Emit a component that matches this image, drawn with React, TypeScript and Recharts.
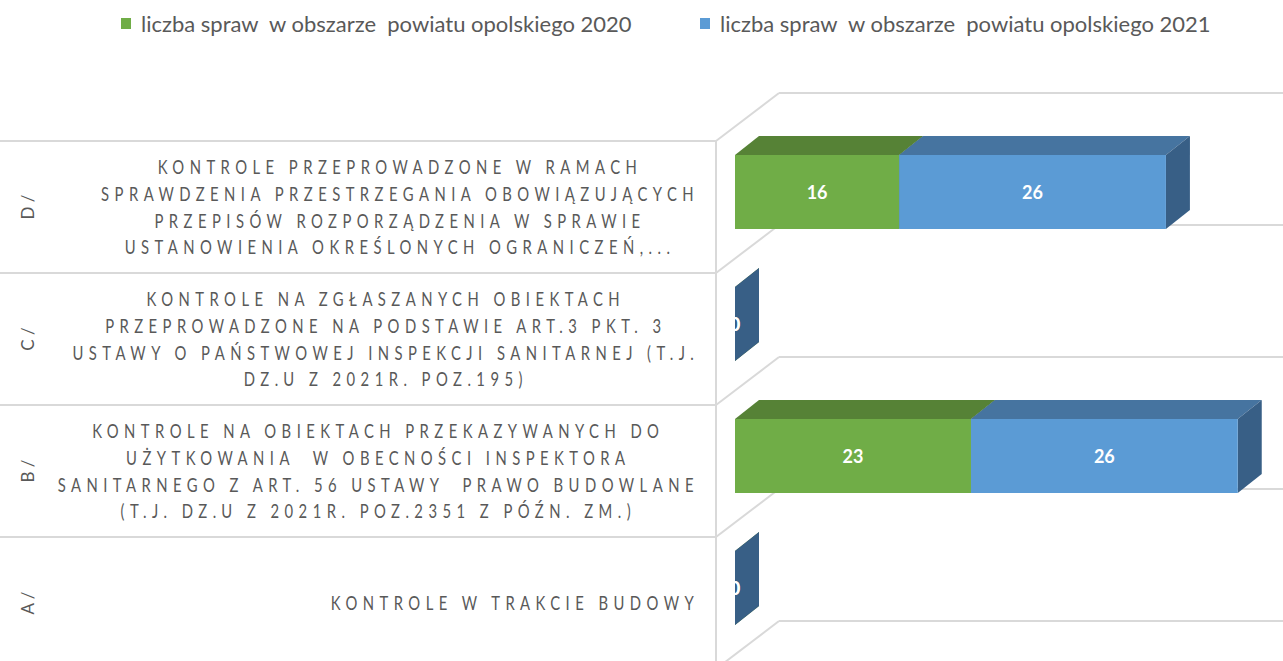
import React from "react";
import {
  Bar,
  BarChart,
  CartesianGrid,
  LabelList,
  Legend,
  XAxis,
  YAxis,
} from "recharts";

// categories, top to bottom
const codes = ["D /", "C /", "B /", "A /"];
const descriptions: string[][] = [
  [
    "KONTROLE PRZEPROWADZONE W RAMACH",
    "SPRAWDZENIA PRZESTRZEGANIA OBOWIĄZUJĄCYCH",
    "PRZEPISÓW ROZPORZĄDZENIA W SPRAWIE",
    "USTANOWIENIA OKREŚLONYCH OGRANICZEŃ,...",
  ],
  [
    "KONTROLE NA ZGŁASZANYCH OBIEKTACH",
    "PRZEPROWADZONE NA PODSTAWIE ART.3 PKT. 3",
    "USTAWY O PAŃSTWOWEJ INSPEKCJI SANITARNEJ (T.J.",
    "DZ.U Z 2021R. POZ.195)",
  ],
  [
    "KONTROLE NA OBIEKTACH PRZEKAZYWANYCH DO",
    "UŻYTKOWANIA  W OBECNOŚCI INSPEKTORA",
    "SANITARNEGO Z ART. 56 USTAWY  PRAWO BUDOWLANE",
    "(T.J. DZ.U Z 2021R. POZ.2351 Z PÓŹN. ZM.)",
  ],
  ["KONTROLE W TRAKCIE BUDOWY"],
];
const cases2020 = [16, 0, 23, 0];
const cases2021 = [26, 0, 26, 0];
const seriesNames = [
  "liczba spraw  w obszarze  powiatu opolskiego 2020",
  "liczba spraw  w obszarze  powiatu opolskiego 2021",
];

const data = codes.map((code, i) => ({
  code,
  y2020: cases2020[i],
  y2021: cases2021[i],
}));

const WIDTH = 1283;
const HEIGHT = 700;
const FRONT = ["#70AD47", "#5B9BD5"];
const TOP = ["#568236", "#4674A0"];
const SIDE = ["#4E7731", "#385F86"];
const GRID = "#D9D9D9";
const TEXT = "#595959";

// 3d depth of a bar and of the whole wall
const DX = 24;
const DY = -19;
const WALL_FRONT_DX = -19;
const WALL_FRONT_DY = 15;
const WALL_BACK_DX = 44;
const WALL_BACK_DY = -33;

const CAT_FONT_SIZE = 19;
const CAT_SX = 0.78;
const CAT_LS = 7;
const CAT_LINE = 26.6;
const LABEL_RIGHT = 697;

let ctx: CanvasRenderingContext2D | null = null;
const measure = (text: string, font: string) => {
  if (!ctx) ctx = document.createElement("canvas").getContext("2d");
  if (!ctx) return text.length * 10;
  ctx.font = font;
  return ctx.measureText(text).width;
};

const CategoryTick = (props: any) => {
  const { y, payload } = props;
  const i = codes.indexOf(payload.value);
  const lines = descriptions[i] || [];
  const cy = y + WALL_FRONT_DY;
  const font = `400 ${CAT_FONT_SIZE}px Lato`;
  const widths = lines.map(
    (l) => (measure(l, font) + CAT_LS * l.length) * CAT_SX
  );
  const blockW = Math.max(...widths);
  const cx = LABEL_RIGHT - blockW / 2;
  const y0 = cy - ((lines.length - 1) * CAT_LINE) / 2;
  return (
    <g>
      <text
        transform={`translate(27,${cy}) rotate(-90)`}
        textAnchor="middle"
        dominantBaseline="central"
        fontFamily="Lato"
        fontSize={17}
        fill={TEXT}
        style={{ whiteSpace: "pre" }}
      >
        {payload.value}
      </text>
      {lines.map((l, k) => (
        <text
          key={k}
          transform={`translate(${cx + (CAT_LS * CAT_SX) / 2},${
            y0 + k * CAT_LINE
          }) scale(${CAT_SX},1)`}
          textAnchor="middle"
          dominantBaseline="central"
          fontFamily="Lato"
          fontSize={CAT_FONT_SIZE}
          letterSpacing={CAT_LS}
          fill={TEXT}
          style={{ whiteSpace: "pre" }}
        >
          {l}
        </text>
      ))}
    </g>
  );
};

const makeBox = (s: number) => (props: any) => {
  const { x, y, width, height } = props;
  if (x == null || y == null) return <g />;
  const w = Math.max(width || 0, 0);
  return (
    <g>
      <polygon
        points={`${x},${y} ${x + w},${y} ${x + w + DX},${y + DY} ${x + DX},${
          y + DY
        }`}
        fill={TOP[s]}
      />
      <polygon
        points={`${x + w},${y} ${x + w + DX},${y + DY} ${x + w + DX},${
          y + height + DY
        } ${x + w},${y + height}`}
        fill={SIDE[s]}
      />
      <rect x={x} y={y} width={w} height={height} fill={FRONT[s]} />
    </g>
  );
};

const ValueLabel = (props: any) => {
  const vb =
    props.viewBox && props.viewBox.height !== undefined ? props.viewBox : props;
  const x = vb.x ?? props.x;
  const y = vb.y ?? props.y;
  const width = vb.width ?? props.width ?? 0;
  const height = vb.height ?? props.height ?? 0;
  return (
    <text
      x={x + width / 2}
      y={y + height / 2}
      fill="#FFFFFF"
      textAnchor="middle"
      dominantBaseline="central"
      fontFamily="Lato"
      fontWeight={700}
      fontSize={18}
    >
      {props.value}
    </text>
  );
};

// one boundary between categories: front line, diagonal, back wall line
const WallLine = (props: any) => {
  const { x1, y1 } = props;
  const fx = x1 + WALL_FRONT_DX;
  const fy = y1 + WALL_FRONT_DY;
  const bx = x1 + WALL_BACK_DX;
  const by = y1 + WALL_BACK_DY;
  return (
    <g key={props.key} stroke={GRID} strokeWidth={2} fill="none">
      <line x1={0} y1={fy} x2={fx} y2={fy} />
      <line x1={fx} y1={fy} x2={bx} y2={by} />
      <line x1={bx} y1={by} x2={WIDTH} y2={by} />
      <line x1={fx} y1={fy} x2={fx} y2={HEIGHT} />
    </g>
  );
};

const LEGEND_X = [121, 700];
const LegendContent = (props: any) => {
  const payload = props.payload && props.payload.length ? props.payload : [];
  return (
    <div style={{ position: "relative", height: 30, width: WIDTH }}>
      {seriesNames.map((name, i) => (
        <div
          key={name}
          style={{
            position: "absolute",
            left: LEGEND_X[i],
            top: 0,
            display: "flex",
            alignItems: "center",
          }}
        >
          <span
            style={{
              display: "inline-block",
              width: 10,
              height: 11,
              background: payload[i]?.color || FRONT[i],
              marginRight: 10,
            }}
          />
          <span
            style={{
              whiteSpace: "pre",
              fontFamily: "Lato",
              fontSize: 22,
              color: TEXT,
            }}
          >
            {payload[i]?.value || name}
          </span>
        </div>
      ))}
    </div>
  );
};

export default function App() {
  return (
    <div
      style={{
        position: "fixed",
        top: 0,
        left: 0,
        width: WIDTH,
        height: 661,
        overflow: "hidden",
        background: "#FFFFFF",
      }}
    >
      <BarChart
        width={WIDTH}
        height={HEIGHT}
        data={data}
        layout="vertical"
        margin={{ top: 126, right: 35, bottom: 46, left: 0 }}
      >
        <CartesianGrid
          vertical={false}
          horizontalCoordinatesGenerator={({ offset }: any) =>
            codes
              .map((_, i) => offset.top + (i * offset.height) / codes.length)
              .concat([offset.top + offset.height])
          }
          horizontal={(p: any) => <WallLine {...p} />}
        />
        <XAxis type="number" domain={[0, 50]} hide />
        <YAxis
          type="category"
          dataKey="code"
          width={735}
          axisLine={false}
          tickLine={false}
          interval={0}
          tick={CategoryTick}
        />
        <Legend
          layout="horizontal"
          verticalAlign="middle"
          align="center"
          wrapperStyle={{ top: 10, left: 0, width: WIDTH }}
          content={LegendContent}
        />
        <Bar
          dataKey="y2020"
          name={seriesNames[0]}
          stackId="s"
          barSize={74}
          fill={FRONT[0]}
          shape={makeBox(0)}
          isAnimationActive={false}
        >
          <LabelList dataKey="y2020" content={ValueLabel} />
        </Bar>
        <Bar
          dataKey="y2021"
          name={seriesNames[1]}
          stackId="s"
          barSize={74}
          fill={FRONT[1]}
          shape={makeBox(1)}
          isAnimationActive={false}
        >
          <LabelList dataKey="y2021" content={ValueLabel} />
        </Bar>
      </BarChart>
    </div>
  );
}
